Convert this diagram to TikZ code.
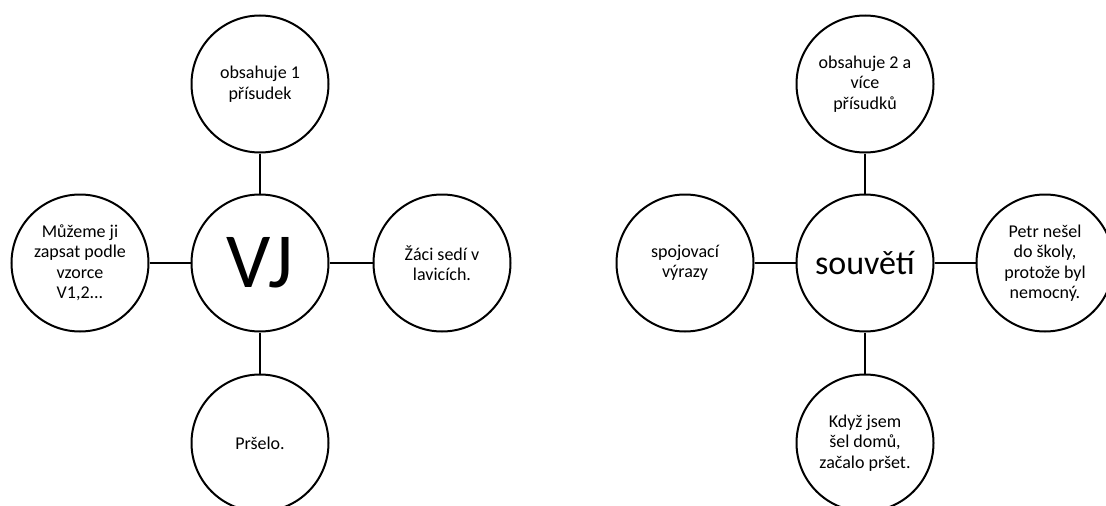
\documentclass[tikz,border=0pt]{standalone}
\usepackage{fontspec}
\setmainfont{Carlito}
\begin{document}
\begin{tikzpicture}[x=1pt,y=-1pt,
  bub/.style={circle,draw,line width=2pt,minimum size=137pt,inner sep=0pt,align=center,font=\fontsize{18}{20.5}\selectfont},
  link/.style={line width=2pt}]
\useasboundingbox (0,0) rectangle (1106,506);
\clip (0,0) rectangle (1106,506);
% left diagram
\node[bub,font=\fontsize{78}{80}\selectfont] (vj) at (260,263) {VJ};
\node[bub] (vjt) at (260,84) {obsahuje 1\\přísudek};
\node[bub] (vjl) at (80,263) {Můžeme ji\\zapsat podle\\vzorce\\V1,2...};
\node[bub] (vjr) at (442,263) {Žáci sedí v\\lavicích.};
\node[bub] (vjb) at (260,443) {Pršelo.};
\draw[link] (vjt) -- (vj);
\draw[link] (vjl) -- (vj);
\draw[link] (vjr) -- (vj);
\draw[link] (vjb) -- (vj);
% right diagram
\node[bub,font=\fontsize{34}{36}\selectfont] (sv) at (865,263) {souvětí};
\node[bub] (svt) at (865,84) {obsahuje 2 a\\více\\přísudků};
\node[bub] (svl) at (685,263) {spojovací\\výrazy};
\node[bub] (svr) at (1045,263) {Petr nešel\\do školy,\\protože byl\\nemocný.};
\node[bub] (svb) at (865,443) {Když jsem\\šel domů,\\začalo pršet.};
\draw[link] (svt) -- (sv);
\draw[link] (svl) -- (sv);
\draw[link] (svr) -- (sv);
\draw[link] (svb) -- (sv);
\end{tikzpicture}
\end{document}
